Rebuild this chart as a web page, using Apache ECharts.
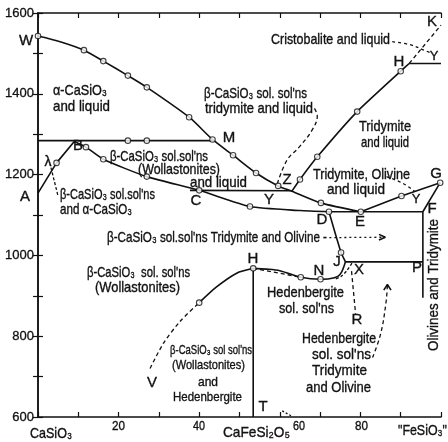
<!DOCTYPE html>
<html>
<head>
<meta charset="utf-8">
<script src="https://cdn.jsdelivr.net/npm/echarts@6/dist/echarts.min.js"></script>
<style>
  html, body { margin: 0; padding: 0; background: #fff; }
  #chart { width: 448px; height: 442px; }
</style>
</head>
<body>
<div id="chart"></div>
<script>
// Phase relations in the system CaSiO3 – "FeSiO3"
// Each point is [composition (wt %), temperature (°C)].

// alpha-CaSiO3 liquidus W – M – Z – E
const liquidusWollastonite = [[0,1543],[5.5,1529],[11.4,1508],[16.2,1481],[22.3,1445],[27,1416],[37.5,1342],[43.3,1287],[48.4,1248],[54.1,1204],[59.6,1172],[63,1159],[70.2,1130],[80.1,1108]];
// alpha/beta inversion isotherm
const inversionIsotherm = [[0,1284],[43.6,1284]];
// A – B
const lineAB = [[0,1154],[4.6,1229],[9,1282]];
// B – C – D solidus of the wollastonite solid solutions
const solidusWollastonite = [[9,1282],[11.9,1268],[16.2,1238],[27,1195],[40,1161],[52.6,1121],[65,1111],[72.2,1108]];
// C – Y – Z isotherm
const isothermCZ = [[37.7,1161],[63,1160]];
// Z – H tridymite liquidus
const tridymiteLiquidus = [[63,1159],[65,1188],[69.3,1244],[79.2,1356],[90,1456],[92.1,1475]];
const cristobaliteIsotherm = [[92.1,1475],[100,1475]];
// D – E – F isotherm, E – G, G – F, F downwards
const isothermDEF = [[72.2,1108],[95.5,1108]];
const lineEG = [[80.1,1108],[90.2,1147],[99.8,1180]];
const lineGF = [[99.8,1180],[95.5,1108]];
const lineFdown = [[95.5,1108],[95.5,895]];
// D – J, J – X – P
const lineDJ = [[72.2,1108],[75.2,1007],[76.3,984]];
const isothermJP = [[76.3,984],[95.5,984]];
// hedenbergite field boundaries
const solidusHedenbergite = [[76.3,984],[75.4,960],[74.4,948],[72.3,942],[70.1,941],[65.2,946],[60,962],[56.7,966],[53.4,968]];
const hedenbergiteBoundary = [[40,883],[44.3,922],[49.3,956],[53.4,968]];
const lineHT = [[53.4,968],[53.4,600]];

// broken-line boundaries
const dashedHK = [[92.1,1475],[100,1570]];
const dashedLens = [[77.9,981],[76.6,962],[75.2,948],[73.6,941]];
const dashedHN = [[53.4,968],[65.2,946]];
const dashedVH = [[27.8,720],[31.1,782],[35.2,836],[40,883]];
const dashedXR = [[77.8,961],[78.8,856]];

// leaders from field labels
const leaderZ = [[68.6,1364],[69.3,1345],[68,1310],[64.8,1268],[61.8,1236],[59.4,1178]];
const leaderCristobalite = [[87.9,1529],[92.5,1521],[95.8,1508],[97.8,1500]];
const leaderTridOlivLiq = [[86.5,1195],[90.6,1178],[93.5,1158]];
const leaderTridOliv = [[72.3,1044],[85.7,1045]];
const leaderHedTridOliv = [[83,747],[85,805],[86.3,879],[86.7,926]];
const leaderLambda = [[4.9,1150],[3.0,1226]];
const leaderT = [[60.6,615],[62.8,603]];
const arrowRight = [[84.6,1052],[86.2,1045],[84.6,1038]];
const arrowUp = [[85.8,914],[86.7,928],[87.6,914]];

// experimental points
const measuredPoints = [
  [0,1543],[11.4,1508],[16.2,1481],[22.3,1445],[27,1416],[37.5,1342],[43.3,1287],[48.4,1248],[54.1,1204],[59.6,1172],[70.2,1130],[80.1,1108],
  [4.6,1229],[22.3,1284],[27,1284],
  [11.9,1268],[16.2,1238],[27,1195],[40,1161],[52.6,1121],[72.2,1108],
  [65,1188],[69.3,1244],[79.2,1356],[90,1456],
  [90.2,1147],[99.8,1180],[75.2,1007],[40,883],[53.4,968],[65.2,946],[70.1,941]
];

// axis ranges and tick steps
const tempRange = [600, 1600];
const tempStep = 100;
const compRange = [0, 100];
const compStep = 10;

const FONT = '"Liberation Sans", Arimo, Arial, sans-serif';
const INK = '#111';

function solid(data, smooth) {
  return { type: 'line', data: data, smooth: smooth || false, symbol: 'none', silent: true,
    lineStyle: { color: INK, width: 1.6 }, z: 3 };
}
function dashed(data, smooth, dash) {
  return { type: 'line', data: data, smooth: smooth || false, symbol: 'none', silent: true,
    lineStyle: { color: INK, width: 1.3, type: dash || [4, 3] }, z: 3 };
}

const series = [
  solid(liquidusWollastonite, 0.25),
  solid(inversionIsotherm),
  solid(lineAB),
  solid(solidusWollastonite, 0.2),
  solid(isothermCZ),
  solid(tridymiteLiquidus, 0.15),
  solid(cristobaliteIsotherm),
  solid(isothermDEF),
  solid(lineEG),
  solid(lineGF),
  solid(lineFdown),
  solid(lineDJ, 0.2),
  solid(isothermJP),
  solid(solidusHedenbergite, 0.3),
  solid(hedenbergiteBoundary, 0.25),
  solid(lineHT),
  dashed(dashedHK),
  dashed(dashedLens, 0.3, [3, 2]),
  dashed(dashedHN),
  dashed(dashedVH, 0.3),
  dashed(dashedXR),
  dashed(leaderZ, 0.4),
  dashed(leaderCristobalite, 0.4, [3, 3]),
  dashed(leaderTridOlivLiq, 0.4, [3, 3]),
  dashed(leaderTridOliv, false, [2, 3]),
  dashed(leaderHedTridOliv, 0.4),
  dashed(leaderLambda, false, [3, 2]),
  dashed(leaderT, false, [2, 2]),
  solid(arrowRight),
  solid(arrowUp),
  { type: 'scatter', data: measuredPoints, symbol: 'circle', symbolSize: 5.5, silent: true, z: 5,
    itemStyle: { color: '#fff', borderColor: INK, borderWidth: 1.1 } }
];

// Field names: [text, left x, right x, centre y, font size]; each is squeezed
// horizontally so that it spans from left to right.
const fieldNames = [
  ['α-CaSiO₃', 53, 107, 91, 14.5], ['and liquid', 53, 110, 107, 14.5],
  ['β-CaSiO₃ sol. sol\'ns', 204, 307, 94, 14.5], ['tridymite and liquid', 205, 313, 109, 14.5],
  ['Cristobalite and liquid', 271, 390, 40, 14.5],
  ['Tridymite', 359, 411, 127, 14.5], ['and liquid', 361, 409, 143, 14.5],
  ['β-CaSiO₃ sol.sol\'ns', 110, 208, 157, 14.5], ['(Wollastonites)', 138, 220, 170, 14.5], ['and liquid', 190, 247, 183, 14.5],
  ['β-CaSiO₃ sol.sol\'ns', 60, 155, 195, 14.5], ['and α-CaSiO₃', 60, 132, 210, 14.5],
  ['Tridymite, Olivine', 313, 410, 175, 14.5], ['and liquid', 327, 385, 190, 14.5],
  ['β-CaSiO₃ sol.sol\'ns Tridymite and Olivine -', 107, 327, 238, 14.5],
  ['β-CaSiO₃  sol. sol\'ns', 87, 190, 273, 14.5], ['(Wollastonites)', 95, 180, 288, 14.5],
  ['Hedenbergite', 267, 344, 293, 14.5], ['sol. sol\'ns', 279, 334, 309, 14.5],
  ['Hedenbergite', 302, 376, 339, 14.5], ['sol. sol\'ns', 312, 371, 355, 14.5],
  ['Tridymite', 312, 367, 371, 14.5], ['and Olivine', 306, 371, 388, 14.5],
  ['β-CaSiO₃ sol sol\'ns', 170, 252, 350, 13], ['(Wollastonites)', 172, 245, 365, 13.5],
  ['and', 198, 218, 382, 13.5], ['Hedenbergite', 173, 242, 397, 13.5],
  // composition axis
  ['CaSiO₃', 30, 72, 434, 15], ['20', 112, 125, 426, 13], ['40', 193, 205, 426, 13],
  ['CaFeSi₂O₅', 223, 290, 433, 15], ['60', 293, 305, 426, 13], ['80', 355, 368, 426, 13],
  ['"FeSiO₃"', 398, 447, 431, 15]
];

// Point letters: [text, centre x, centre y, size]
const pointNames = [
  ['W', 26, 41, 15], ['A', 25, 197, 15], ['B', 78, 146, 15],
  ['M', 229, 138, 15], ['K', 432, 22, 15], ['H', 399, 62, 15],
  ['C', 196, 201, 15], ['Y', 269, 200, 15], ['Z', 287, 180, 15],
  ['G', 436, 174, 15], ['F', 432, 209, 15], ['D', 322, 220, 15],
  ['E', 360, 222, 15], ['H', 253, 259, 15], ['N', 319, 271, 15],
  ['J', 337, 262, 15], ['X', 359, 270, 15], ['P', 417, 268, 15],
  ['R', 357, 320, 15], ['V', 152, 383, 15], ['T', 263, 407, 15],
  ['λ', 48, 162, 14], ['Y', 434, 56, 13], ['Y', 416, 199, 13]
];

const measureCtx = document.createElement('canvas').getContext('2d');
function widthAt(text, size) {
  measureCtx.font = size + 'px ' + FONT;
  return measureCtx.measureText(text).width;
}
function textStyle(text, size) {
  return { text: text, font: size + 'px ' + FONT, fill: INK, stroke: INK, lineWidth: 0.35 };
}

const graphic = [];
fieldNames.forEach(function (l) {
  const sx = (l[2] - l[1]) / widthAt(l[0], l[4]);
  const st = textStyle(l[0], l[4]);
  st.align = 'left'; st.verticalAlign = 'middle';
  graphic.push({ type: 'text', x: l[1], y: l[3], scaleX: sx, silent: true, z: 10, style: st });
});
pointNames.forEach(function (l) {
  const st = textStyle(l[0], l[3]);
  st.align = 'center'; st.verticalAlign = 'middle';
  graphic.push({ type: 'text', x: l[1], y: l[2], silent: true, z: 10, style: st });
});
(function () {
  const txt = 'Olivines and Tridymite';
  const st = textStyle(txt, 14.5);
  st.align = 'center'; st.verticalAlign = 'middle';
  graphic.push({ type: 'text', x: 434, y: 285, rotation: Math.PI / 2, scaleX: 132 / widthAt(txt, 14.5),
    silent: true, z: 10, style: st });
})();

const axisLine = { show: true, lineStyle: { color: INK, width: 1.5 } };
const axisTick = { show: true, inside: true, length: 5, lineStyle: { color: INK, width: 1.2 } };

const chart = echarts.init(document.getElementById('chart'), null, { renderer: 'canvas' });
chart.setOption({
  animation: false,
  backgroundColor: '#fff',
  grid: { left: 38, right: 7, top: 13, bottom: 25 },
  xAxis: [
    { type: 'value', min: compRange[0], max: compRange[1], interval: compStep, position: 'bottom',
      axisLine: axisLine, axisTick: axisTick, axisLabel: { show: false }, splitLine: { show: false } },
    { type: 'value', min: compRange[0], max: compRange[1], interval: compStep, position: 'top',
      axisLine: axisLine, axisTick: axisTick, axisLabel: { show: false }, splitLine: { show: false } }
  ],
  yAxis: [
    { type: 'value', min: tempRange[0], max: tempRange[1], interval: tempStep, position: 'left',
      axisLine: axisLine, axisTick: axisTick, splitLine: { show: false },
      axisLabel: { color: INK, fontSize: 13, fontFamily: 'Liberation Sans', margin: 4,
        textBorderColor: INK, textBorderWidth: 0.3,
        formatter: function (v) { return v % 200 === 0 ? String(v) : ''; } } },
    { type: 'value', min: tempRange[0], max: tempRange[1], interval: tempStep, position: 'right',
      axisLine: axisLine, axisTick: axisTick, axisLabel: { show: false }, splitLine: { show: false } }
  ],
  series: series,
  graphic: graphic
});
</script>
</body>
</html>
